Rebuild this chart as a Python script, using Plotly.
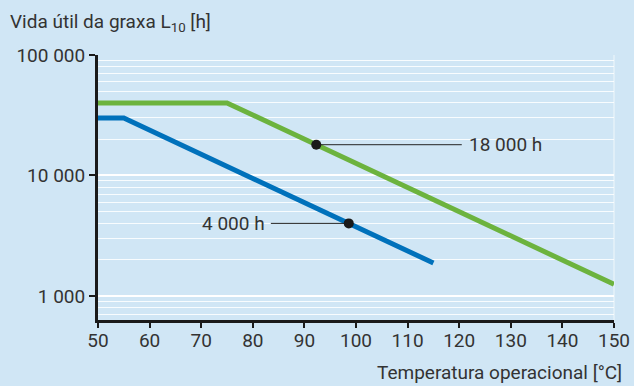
import math
import plotly.graph_objects as go

# Data
green_x = [50, 75, 150]
green_y = [40000, 40000, 1250]
blue_x = [50, 55, 115]
blue_y = [30000, 30000, 1875]

marker_x = [92.3, 98.6]
marker_y = [18000, 4000]
marker_labels = ["18 000 h", "4 000 h"]
label_end_x = [120.5, 83.5]

y_tickvals = [1000, 10000, 100000]
y_ticktext = ["1 000", "10 000", "100 000"]
x_tickvals = list(range(50, 151, 10))

bg = "rgb(208,230,245)"
txt = "#333333"
font = "Roboto"
fs = 19

fig = go.Figure()
fig.add_trace(go.Scatter(x=green_x, y=green_y, mode="lines",
                         line=dict(color="#6cb33e", width=5), hoverinfo="skip"))
fig.add_trace(go.Scatter(x=blue_x, y=blue_y, mode="lines",
                         line=dict(color="#0071bb", width=5), hoverinfo="skip"))

for mx, my, lx, lab in zip(marker_x, marker_y, label_end_x, marker_labels):
    fig.add_trace(go.Scatter(x=[mx, lx], y=[my, my], mode="lines",
                             line=dict(color="#222222", width=1), hoverinfo="skip"))
    fig.add_annotation(x=lx, y=math.log10(my), text=lab, showarrow=False,
                       xanchor="left" if lx > mx else "right",
                       xshift=5 if lx > mx else -4,
                       font=dict(family=font, size=fs, color=txt))

fig.add_trace(go.Scatter(x=marker_x, y=marker_y, mode="markers",
                         marker=dict(color="#1a1a1a", size=10), hoverinfo="skip"))

W, H = 634, 386
L, R, T, B = 98, 20, 55, 66
pw, ph = W - L - R, H - T - B

fig.update_layout(
    width=W, height=H,
    margin=dict(l=L, r=R, t=T, b=B, autoexpand=False),
    paper_bgcolor=bg, plot_bgcolor=bg,
    showlegend=False,
    font=dict(family=font, size=fs, color=txt),
)
fig.update_xaxes(range=[50, 150], tickvals=x_tickvals, showgrid=False,
                 showline=True, linecolor="#1a1a1a", linewidth=3,
                 ticks="outside", ticklen=5, tickwidth=2, tickcolor="#1a1a1a",
                 ticklabelstandoff=-4,
                 zeroline=False, automargin=False, tickfont=dict(size=fs, color=txt))
fig.update_yaxes(type="log", range=[2.8, 5.0], tickvals=y_tickvals, ticktext=y_ticktext,
                 showgrid=True, gridcolor="white", gridwidth=1.5,
                 minor=dict(dtick="D1", showgrid=True, gridcolor="rgba(255,255,255,0.85)", gridwidth=1),
                 showline=True, linecolor="#1a1a1a", linewidth=3,
                 ticks="outside", ticklen=6, tickwidth=2, tickcolor="#1a1a1a",
                 zeroline=False, automargin=False, tickfont=dict(size=fs, color=txt))

fig.add_shape(type="line", xref="paper", yref="paper", x0=1, x1=1, y0=0, y1=1,
              line=dict(color="rgba(255,255,255,0.7)", width=1), layer="below")

fig.add_annotation(xref="paper", yref="paper", x=-(L - 8) / pw, y=1 + (T - 22) / ph,
                   xanchor="left", yanchor="middle", showarrow=False,
                   text="Vida útil da graxa L<sub>10</sub> [h]",
                   font=dict(family=font, size=fs, color=txt))
fig.add_annotation(xref="paper", yref="paper", x=1 + 10 / pw, y=-(372 - (H - B)) / ph,
                   xanchor="right", yanchor="middle", showarrow=False,
                   text="Temperatura operacional [°C]",
                   font=dict(family=font, size=fs, color=txt))

fig.write_html("out.html")
